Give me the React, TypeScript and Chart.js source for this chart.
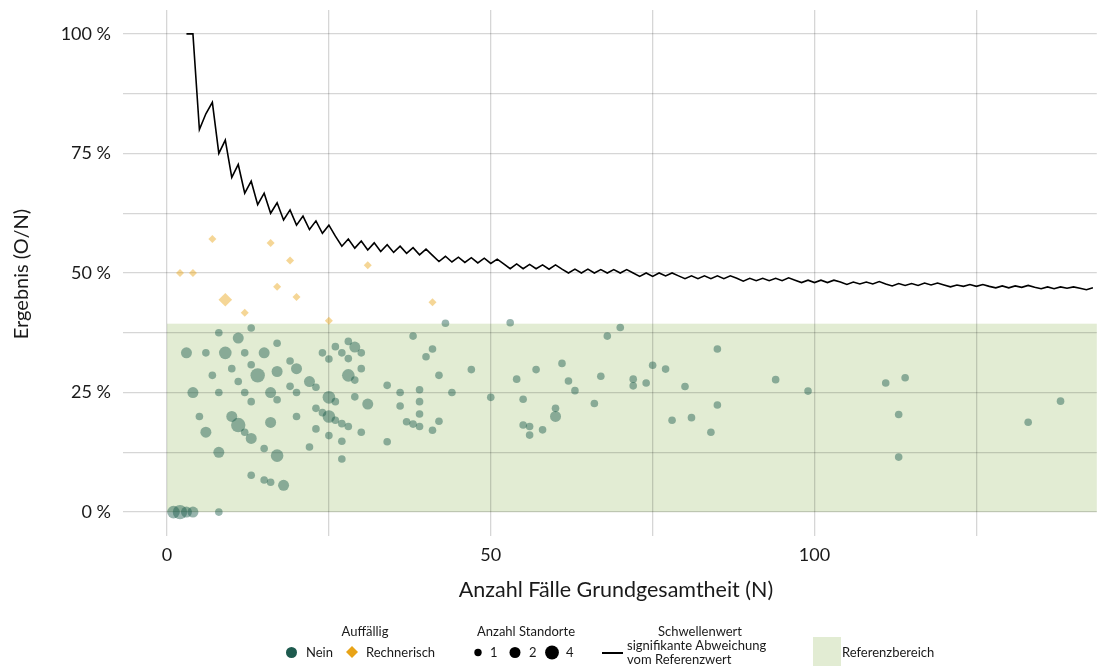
import { useEffect, useRef } from "react";
import { Chart, registerables } from "chart.js";

Chart.register(...registerables);

// ---------- data ----------
const thresholdN = [
  3, 4, 5, 6, 7, 8, 9, 10, 11, 12, 13, 14, 15, 16, 17, 18, 19, 20, 21, 22, 23, 24, 25, 26, 27, 28, 29, 30,
  31, 32, 33, 34, 35, 36, 37, 38, 39, 40, 41, 42, 43, 44, 45, 46, 47, 48, 49, 50, 51, 52, 53, 54, 55, 56,
  57, 58, 59, 60, 61, 62, 63, 64, 65, 66, 67, 68, 69, 70, 71, 72, 73, 74, 75, 76, 77, 78, 79, 80, 81, 82,
  83, 84, 85, 86, 87, 88, 89, 90, 91, 92, 93, 94, 95, 96, 97, 98, 99, 100, 101, 102, 103, 104, 105, 106,
  107, 108, 109, 110, 111, 112, 113, 114, 115, 116, 117, 118, 119, 120, 121, 122, 123, 124, 125, 126, 127,
  128, 129, 130, 131, 132, 133, 134, 135, 136, 137, 138, 139, 140, 141, 142, 143,
];
const thresholdPct = [
  100, 100, 80, 83.3, 85.7, 75, 77.8, 70, 72.7, 66.7, 69.2, 64.3, 66.7, 62.5, 64.7, 61.1, 63.2, 60, 61.9,
  59.1, 60.9, 58.3, 60, 57.7, 55.6, 57.1, 55.2, 56.7, 54.8, 56.3, 54.5, 55.9, 54.3, 55.6, 54.1, 55.3, 53.8,
  55, 53.7, 52.4, 53.5, 52.3, 53.3, 52.2, 53.2, 52.1, 53.1, 52, 52.9, 51.9, 50.9, 51.9, 50.9, 51.8, 50.9,
  51.7, 50.8, 51.7, 50.8, 50, 50.8, 50, 50.8, 50, 50.7, 50, 50.7, 50, 50.7, 50, 49.3, 50, 49.3, 50, 49.4,
  50, 49.4, 48.8, 49.4, 48.8, 49.4, 48.8, 49.4, 48.8, 49.4, 48.9, 48.3, 48.9, 48.4, 48.9, 48.4, 48.9, 48.4,
  49, 48.5, 48, 48.5, 48, 48.5, 48, 48.5, 48.1, 47.6, 48.1, 47.7, 48.1, 47.7, 48.2, 47.7, 47.3, 47.8, 47.4,
  47.8, 47.4, 47.9, 47.5, 47.9, 47.5, 47.1, 47.5, 47.2, 47.6, 47.2, 47.6, 47.2, 46.9, 47.3, 46.9, 47.3, 47,
  47.4, 47, 46.7, 47.1, 46.7, 47.1, 46.8, 47.1, 46.8, 46.5, 46.9,
];

// Auffällig: Nein
const neinN = [
  1, 2, 3, 4, 8,
  13, 8, 11, 17, 3, 6, 9, 12, 15, 19, 13, 10, 17, 20, 14, 7, 11, 19, 4, 8, 12, 16, 20, 17, 13, 5, 10, 20,
  16, 11, 12, 6, 13, 15, 8, 17, 13, 15, 16, 18,
  43, 38, 28, 26, 29, 41, 24, 27, 30, 40, 25, 28, 30, 28, 29, 22, 23, 42, 34, 25, 26, 29, 31, 36, 39, 44,
  36, 39, 23, 24, 25, 26, 27, 28, 39, 37, 38, 39, 42, 41, 23, 25, 30, 27, 34, 22, 27,
  47, 53, 50, 54, 57, 55, 55, 56, 56, 58, 60, 60, 61, 62, 63, 66, 67, 68, 70, 72, 72, 74, 75, 77, 78, 80,
  81, 84, 85, 85,
  94, 99, 111, 114, 113, 113, 133, 138,
];
const neinPct = [
  0, 0, 0, 0, 0,
  38.5, 37.5, 36.4, 35.3, 33.3, 33.3, 33.3, 33.3, 33.3, 31.6, 30.8, 30, 29.4, 30, 28.6, 28.6, 27.3, 26.3,
  25, 25, 25, 25, 25, 23.5, 23.1, 20, 20, 20, 18.75, 18.2, 16.7, 16.7, 15.4, 13.3, 12.5, 11.8, 7.7, 6.7,
  6.25, 5.6,
  39.5, 36.8, 35.7, 34.6, 34.5, 34.1, 33.3, 33.3, 33.3, 32.5, 32, 32.1, 30, 28.6, 27.6, 27.3, 26.1, 28.6,
  26.5, 24, 23.1, 24.1, 22.6, 25, 25.6, 25, 22.2, 23.1, 21.7, 20.8, 20, 19.2, 18.5, 17.9, 20.5, 18.9, 18.4,
  17.9, 19, 17.1, 17.4, 16, 16.7, 14.8, 14.7, 13.6, 11.1,
  29.8, 39.6, 24, 27.8, 29.8, 23.6, 18.2, 17.9, 16.1, 17.2, 21.7, 20, 31.1, 27.4, 25.4, 22.7, 28.4, 36.8,
  38.6, 27.8, 26.4, 27, 30.7, 29.9, 19.2, 26.25, 19.75, 16.7, 34.1, 22.4,
  27.7, 25.3, 27, 28.1, 20.4, 11.5, 18.8, 23.2,
];
const neinStandorte = [
  3, 4, 2, 2, 1,
  1, 1, 2, 1, 2, 1, 3, 1, 2, 1, 1, 1, 2, 2, 4, 1, 1, 1, 2, 1, 1, 2, 1, 1, 1, 1, 2, 1, 2, 4, 1, 2, 2, 1,
  2, 3, 1, 1, 1, 2,
  1, 1, 1, 1, 2, 1, 1, 1, 1, 1, 1, 1, 1, 3, 1, 2, 1, 1, 1, 3, 1, 1, 2, 1, 1, 1, 1, 1, 1, 1, 3, 1, 1, 1,
  1, 1, 1, 1, 1, 1, 1, 1, 1, 1, 1, 1, 1,
  1, 1, 1, 1, 1, 1, 1, 1, 1, 1, 1, 2, 1, 1, 1, 1, 1, 1, 1, 1, 1, 1, 1, 1, 1, 1, 1, 1, 1, 1,
  1, 1, 1, 1, 1, 1, 1, 1,
];

// Auffällig: Rechnerisch
const rechnN = [2, 4, 7, 16, 19, 9, 17, 20, 12, 31, 25, 41];
const rechnPct = [50, 50, 57.1, 56.25, 52.6, 44.4, 47.1, 45, 41.7, 51.6, 40, 43.9];
const rechnStandorte = [1, 1, 1, 1, 1, 3, 1, 1, 1, 1, 1, 1];

// Referenzbereich
const refLower = 0;
const refUpper = 39.4;

// gridlines / tick labels
const xGridValues = [0, 25, 50, 75, 100, 125];
const xTickValues = [0, 50, 100];
const yGridValues = [0, 12.5, 25, 37.5, 50, 62.5, 75, 87.5, 100];
const yTickValues = [0, 25, 50, 75, 100];

const xTitle = "Anzahl Fälle Grundgesamtheit (N)";
const yTitle = "Ergebnis (O/N)";

// ---------- styles ----------
const FONT = "Lato, 'Open Sans', sans-serif";
const TEAL = "rgba(26,90,75,0.45)";
const TEAL_SOLID = "#1d5a4e";
const GOLD = "rgba(232,163,23,0.45)";
const GOLD_SOLID = "#e8a317";
const REF_GREEN = "rgb(226,236,211)";
const dotRadius: Record<number, number> = { 1: 3.8, 2: 5.5, 3: 6.3, 4: 7.2 };
const diamondRadius: Record<number, number> = { 1: 4, 2: 5.5, 3: 6.8, 4: 7.5 };

const W = 1104;
const H = 666;

const decorPlugin = {
  id: "decor",
  beforeDraw(chart: any) {
    const { ctx, chartArea, scales } = chart;
    const x0 = scales.x.getPixelForValue(0);
    const yTop = scales.y.getPixelForValue(refUpper);
    const yBot = scales.y.getPixelForValue(refLower);
    ctx.save();
    ctx.fillStyle = REF_GREEN;
    ctx.fillRect(x0, yTop, chartArea.right - x0, yBot - yTop);
    ctx.restore();
  },
  afterDraw(chart: any) {
    const { ctx } = chart;
    ctx.save();
    // axis titles
    ctx.fillStyle = "#1a1a1a";
    ctx.textAlign = "center";
    ctx.textBaseline = "middle";
    ctx.font = `21.5px ${FONT}`;
    ctx.fillText(xTitle, 616, 590);
    ctx.save();
    ctx.font = `20px ${FONT}`;
    ctx.translate(22, 274);
    ctx.rotate(-Math.PI / 2);
    ctx.fillText(yTitle, 0, 0);
    ctx.restore();

    // legend
    ctx.font = `13px ${FONT}`;
    ctx.fillStyle = "#1a1a1a";
    ctx.textAlign = "center";
    ctx.fillText("Auffällig", 365, 632);
    ctx.fillText("Anzahl Standorte", 526, 632);
    ctx.fillText("Schwellenwert", 700, 632);
    ctx.textAlign = "left";
    ctx.fillText("signifikante Abweichung", 627, 646);
    ctx.fillText("vom Referenzwert", 627, 660);

    // Nein
    ctx.fillStyle = TEAL_SOLID;
    ctx.beginPath();
    ctx.arc(291.5, 652.5, 5.5, 0, Math.PI * 2);
    ctx.fill();
    ctx.fillStyle = "#1a1a1a";
    ctx.fillText("Nein", 306, 653);
    // Rechnerisch
    ctx.fillStyle = GOLD_SOLID;
    ctx.beginPath();
    ctx.moveTo(352, 646);
    ctx.lineTo(358, 652);
    ctx.lineTo(352, 658);
    ctx.lineTo(346, 652);
    ctx.closePath();
    ctx.fill();
    ctx.fillStyle = "#1a1a1a";
    ctx.fillText("Rechnerisch", 366, 653);

    // sizes
    const sizes = [
      { x: 478, r: 3.7, label: "1", lx: 490 },
      { x: 515, r: 5.5, label: "2", lx: 529 },
      { x: 552, r: 6.9, label: "4", lx: 566 },
    ];
    for (const s of sizes) {
      ctx.fillStyle = "#000";
      ctx.beginPath();
      ctx.arc(s.x, 652.5, s.r, 0, Math.PI * 2);
      ctx.fill();
      ctx.fillStyle = "#1a1a1a";
      ctx.fillText(s.label, s.lx, 653);
    }

    // threshold line
    ctx.strokeStyle = "#000";
    ctx.lineWidth = 2;
    ctx.beginPath();
    ctx.moveTo(602, 653);
    ctx.lineTo(623, 653);
    ctx.stroke();

    // Referenzbereich
    ctx.fillStyle = REF_GREEN;
    ctx.fillRect(813, 637, 28, 29);
    ctx.fillStyle = "#1a1a1a";
    ctx.fillText("Referenzbereich", 842, 653);
    ctx.restore();
  },
};

export default function App() {
  const ref = useRef<HTMLCanvasElement | null>(null);

  useEffect(() => {
    if (!ref.current) return;
    Chart.defaults.font.family = FONT;
    const chart = new Chart(ref.current, {
      type: "scatter",
      data: {
        datasets: [
          {
            type: "line",
            label: "Schwellenwert",
            data: thresholdN.map((n, i) => ({ x: n, y: thresholdPct[i] })),
            borderColor: "#000",
            borderWidth: 1.6,
            pointRadius: 0,
            tension: 0,
            fill: false,
            order: 0,
          } as any,
          {
            label: "Nein",
            data: neinN.map((n, i) => ({ x: n, y: neinPct[i] })),
            backgroundColor: TEAL,
            borderWidth: 0,
            pointRadius: neinStandorte.map((s) => dotRadius[s]),
            pointStyle: "circle",
            order: 1,
          },
          {
            label: "Rechnerisch",
            data: rechnN.map((n, i) => ({ x: n, y: rechnPct[i] })),
            backgroundColor: GOLD,
            borderWidth: 0,
            pointRadius: rechnStandorte.map((s) => diamondRadius[s]),
            pointStyle: "rectRot",
            order: 2,
          },
        ],
      },
      options: {
        responsive: false,
        animation: false,
        events: [],
        layout: { padding: { top: 10, right: 2, left: 0, bottom: 0 } },
        plugins: { legend: { display: false }, tooltip: { enabled: false } },
        scales: {
          x: {
            type: "linear",
            min: -6.8,
            max: 143.6,
            border: { display: false },
            grid: { color: "rgba(0,0,0,0.16)", lineWidth: 1.3, drawTicks: false },
            ticks: {
              autoSkip: false,
              maxRotation: 0,
              padding: 8,
              color: "#1a1a1a",
              font: { size: 18, family: FONT },
              callback: (v: any) => (xTickValues.includes(Number(v)) ? String(v) : ""),
            },
            afterBuildTicks: (scale: any) => {
              scale.ticks = xGridValues.map((v) => ({ value: v }));
            },
            afterFit: (scale: any) => {
              scale.height = H - 536;
              scale.paddingLeft = 0;
              scale.paddingRight = 0;
            },
          },
          y: {
            type: "linear",
            min: -5,
            max: 105,
            border: { display: false },
            grid: { color: "rgba(0,0,0,0.16)", lineWidth: 1.3, drawTicks: false },
            ticks: {
              autoSkip: false,
              padding: 12,
              color: "#1a1a1a",
              font: { size: 18, family: FONT },
              callback: (v: any) => (yTickValues.includes(Number(v)) ? `${v} %` : ""),
            },
            afterBuildTicks: (scale: any) => {
              scale.ticks = yGridValues.map((v) => ({ value: v }));
            },
            afterFit: (scale: any) => {
              scale.width = 123;
              scale.paddingTop = 0;
              scale.paddingBottom = 0;
            },
          },
        },
      },
      plugins: [decorPlugin],
    });
    return () => chart.destroy();
  }, []);

  return (
    <div style={{ position: "absolute", left: 0, top: 0, width: W, height: H, background: "#fff" }}>
      <canvas ref={ref} width={W} height={H} style={{ display: "block" }} />
    </div>
  );
}
